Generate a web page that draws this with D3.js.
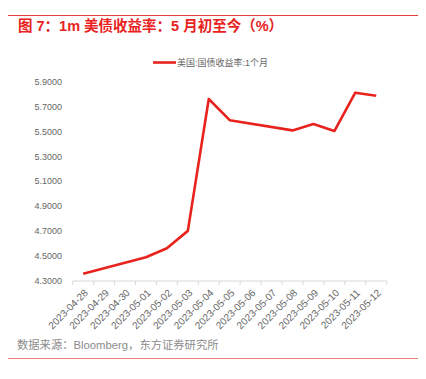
<!DOCTYPE html>
<html><head><meta charset="utf-8">
<script src="https://cdn.jsdelivr.net/npm/d3@7"></script>
<style>body{margin:0;background:#fff}svg{display:block}</style>
</head><body>
<svg id="c" width="426" height="379"></svg>
<script>
const dates = ["2023-04-28","2023-04-29","2023-04-30","2023-05-01","2023-05-02","2023-05-03","2023-05-04","2023-05-05","2023-05-06","2023-05-07","2023-05-08","2023-05-09","2023-05-10","2023-05-11","2023-05-12"];
const yields = [4.355, null, null, 4.487, 4.560, 4.700, 5.763, 5.592, null, null, 5.510, 5.562, 5.505, 5.814, 5.789];
const yTicks = [4.3, 4.5, 4.7, 4.9, 5.1, 5.3, 5.5, 5.7, 5.9];
const title = "图 7：1m 美债收益率：5 月初至今（%）";
const seriesName = "美国:国债收益率:1个月";
const source = "数据来源：Bloomberg，东方证券研究所";

const svg = d3.select("#c");
const red = "#e8231e";
const font = "'Liberation Sans', Arial, 'Noto Sans CJK SC', sans-serif";

// rules
svg.append("line").attr("x1",8).attr("x2",418).attr("y1",15.5).attr("y2",15.5).attr("stroke","#e8413a").attr("stroke-width",1);
svg.append("line").attr("x1",8).attr("x2",418).attr("y1",358.5).attr("y2",358.5).attr("stroke","#f08078").attr("stroke-width",1);

svg.append("text").attr("x",18).attr("y",30.5).attr("fill",red).attr("font-size",14.5).attr("font-weight","bold")
  .attr("font-family",font).text(title);

const x = d3.scaleBand().domain(dates).range([72.7, 386.7]);
const y = d3.scaleLinear().domain([4.3, 5.9]).range([280.5, 82]);

// x axis
const xa = svg.append("g").attr("transform","translate(0,281)");
xa.append("line").attr("x1",x.range()[0]).attr("x2",x.range()[1]).attr("stroke","#d9d9d9");
const tickPos = dates.map(d=>x(d)).concat([x.range()[1]]);
xa.selectAll("line.t").data(tickPos).join("line").attr("class","t")
  .attr("x1",d=>d).attr("x2",d=>d).attr("y1",0).attr("y2",4).attr("stroke","#d9d9d9");
xa.selectAll("text").data(dates).join("text")
  .attr("transform",d=>`translate(${x(d)+x.bandwidth()/2+3},${10}) rotate(-45)`)
  .attr("text-anchor","end").attr("dy","0.35em")
  .attr("font-size",10).attr("font-family",font).attr("fill","#666").text(d=>d);

// y axis labels
svg.append("g").selectAll("text").data(yTicks).join("text")
  .attr("x",62).attr("y",d=>y(d)).attr("dy","0.35em").attr("text-anchor","end")
  .attr("font-size",9).attr("font-family",font).attr("fill","#666").text(d=>d.toFixed(4));

// line
const pts = dates.map((d,i)=>({d, v:yields[i]})).filter(p=>p.v!==null);
const line = d3.line().x(p=>x(p.d)+x.bandwidth()/2).y(p=>y(p.v));
svg.append("path").datum(pts).attr("d",line).attr("fill","none").attr("stroke",red)
  .attr("stroke-width",2.6).attr("stroke-linejoin","round");

// legend
svg.append("line").attr("x1",153).attr("x2",176).attr("y1",62.5).attr("y2",62.5).attr("stroke",red).attr("stroke-width",2.6);
svg.append("text").attr("x",177).attr("y",62.5).attr("dy","0.35em").attr("font-size",9)
  .attr("font-family",font).attr("fill","#666").text(seriesName);

// source
svg.append("text").attr("x",17).attr("y",345).attr("dy","0.35em").attr("font-size",11.3)
  .attr("font-family",font).attr("fill","#8c8c8c").text(source);
</script>
</body></html>
